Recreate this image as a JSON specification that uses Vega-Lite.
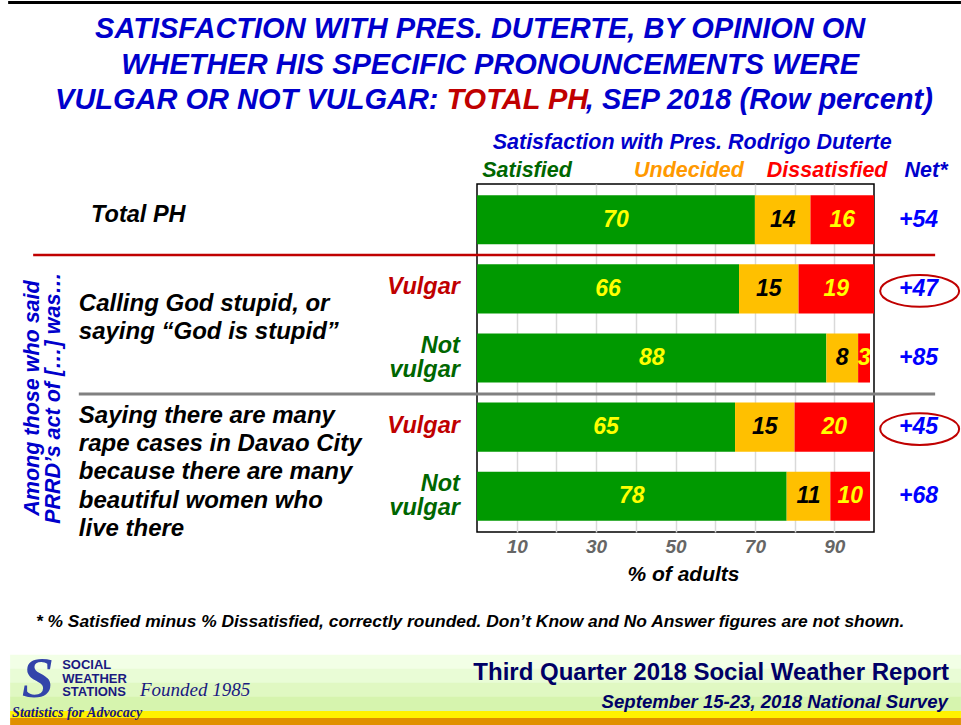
{
  "$schema": "https://vega.github.io/schema/vega-lite/v6.json",
  "width": 397,
  "height": 348,
  "autosize": {"type": "none"},
  "padding": {"left": 477, "top": 184, "right": 87, "bottom": 193},
  "background": "#ffffff",
  "config": {
    "view": {"stroke": "#000000", "strokeWidth": 1.5},
    "text": {"font": "Liberation Sans", "fontStyle": "italic", "fontWeight": "bold", "baseline": "middle"}
  },
  "datasets": {
    "bars": [
      {"row": "Total PH", "cat": "Satisfied", "pct": 70},
      {"row": "Total PH", "cat": "Undecided", "pct": 14},
      {"row": "Total PH", "cat": "Dissatisfied", "pct": 16},
      {"row": "God: Vulgar", "cat": "Satisfied", "pct": 66},
      {"row": "God: Vulgar", "cat": "Undecided", "pct": 15},
      {"row": "God: Vulgar", "cat": "Dissatisfied", "pct": 19},
      {"row": "God: Not vulgar", "cat": "Satisfied", "pct": 88},
      {"row": "God: Not vulgar", "cat": "Undecided", "pct": 8},
      {"row": "God: Not vulgar", "cat": "Dissatisfied", "pct": 3},
      {"row": "Rape: Vulgar", "cat": "Satisfied", "pct": 65},
      {"row": "Rape: Vulgar", "cat": "Undecided", "pct": 15},
      {"row": "Rape: Vulgar", "cat": "Dissatisfied", "pct": 20},
      {"row": "Rape: Not vulgar", "cat": "Satisfied", "pct": 78},
      {"row": "Rape: Not vulgar", "cat": "Undecided", "pct": 11},
      {"row": "Rape: Not vulgar", "cat": "Dissatisfied", "pct": 10}
    ],
    "rows": [
      {"row": "Total PH", "opinion": "", "net": 54, "highlight": false},
      {"row": "God: Vulgar", "opinion": "Vulgar", "net": 47, "highlight": true},
      {"row": "God: Not vulgar", "opinion": "Not vulgar", "net": 85, "highlight": false},
      {"row": "Rape: Vulgar", "opinion": "Vulgar", "net": 45, "highlight": true},
      {"row": "Rape: Not vulgar", "opinion": "Not vulgar", "net": 68, "highlight": false}
    ]
  },
  "layer": [
    {
      "data": {"name": "bars"},
      "transform": [
        {"calculate": "indexof(['Satisfied','Undecided','Dissatisfied'], datum.cat)", "as": "ord"},
        {"stack": "pct", "groupby": ["row"], "sort": [{"field": "ord", "order": "ascending"}], "as": ["v0", "v1"]}
      ],
      "mark": {"type": "bar"},
      "encoding": {
        "y": {"field": "row", "type": "nominal", "axis": null,
              "scale": {"type": "band", "domain": ["Total PH", "God: Vulgar", "God: Not vulgar", "Rape: Vulgar", "Rape: Not vulgar"], "paddingInner": 0.29, "paddingOuter": 0.163}},
        "x": {"field": "v0", "type": "quantitative",
              "scale": {"domain": [0, 100], "nice": false, "zero": false},
              "axis": {"values": [10, 20, 30, 40, 50, 60, 70, 80, 90], "grid": true, "gridColor": "#d9d9d9", "gridWidth": 1.5,
                       "ticks": false, "domain": false, "labelExpr": "datum.value % 20 == 10 ? datum.label : ''",
                       "labelFont": "Liberation Sans", "labelFontStyle": "italic", "labelFontWeight": "bold", "labelFontSize": 19,
                       "labelColor": "#666666", "labelPadding": 5, "labelFlush": false, "labelOverlap": false,
                       "title": "% of adults", "titleFont": "Liberation Sans", "titleFontStyle": "italic", "titleFontWeight": "bold",
                       "titleFontSize": 21, "titleColor": "#000000", "titlePadding": 7, "titleX": 206}},
        "x2": {"field": "v1"},
        "color": {"field": "cat", "type": "nominal", "legend": null,
                  "scale": {"domain": ["Satisfied", "Undecided", "Dissatisfied"], "range": ["#009900", "#ffc000", "#ff0000"]}}
      }
    },
    {
      "data": {"name": "bars"},
      "transform": [
        {"calculate": "indexof(['Satisfied','Undecided','Dissatisfied'], datum.cat)", "as": "ord"},
        {"stack": "pct", "groupby": ["row"], "sort": [{"field": "ord", "order": "ascending"}], "as": ["v0", "v1"]},
        {"calculate": "(datum.v0 + datum.v1) / 2", "as": "mid"}
      ],
      "mark": {"type": "text", "fontSize": 23, "align": "center"},
      "encoding": {
        "y": {"field": "row", "type": "nominal"},
        "x": {"field": "mid", "type": "quantitative"},
        "text": {"field": "pct", "type": "quantitative"},
        "color": {"condition": {"test": "datum.cat === 'Undecided'", "value": "#000000"}, "value": "#ffff00"}
      }
    },
    {
      "data": {"name": "rows"},
      "mark": {"type": "text", "fontSize": 23, "align": "center", "color": "#0000ff"},
      "encoding": {
        "y": {"field": "row", "type": "nominal"},
        "x": {"datum": 111.2},
        "text": {"field": "net", "type": "quantitative", "format": "+d"}
      }
    },
    {
      "data": {"values": [{"line": "footer band 1"}]},
      "mark": {"type": "rule", "color": "#f2ffe6", "strokeWidth": 14.5, "yOffset": 165.8},
      "encoding": {"x": {"datum": -117.6, "type": "quantitative"}, "x2": {"datum": 121.9}, "y": {"datum": "Rape: Not vulgar", "type": "nominal"}}
    },
    {
      "data": {"values": [{"line": "footer band 2"}]},
      "mark": {"type": "rule", "color": "#e9fcd6", "strokeWidth": 14.5, "yOffset": 179.8},
      "encoding": {"x": {"datum": -117.6, "type": "quantitative"}, "x2": {"datum": 121.9}, "y": {"datum": "Rape: Not vulgar", "type": "nominal"}}
    },
    {
      "data": {"values": [{"line": "footer band 3"}]},
      "mark": {"type": "rule", "color": "#e0f8c2", "strokeWidth": 14.5, "yOffset": 193.8},
      "encoding": {"x": {"datum": -117.6, "type": "quantitative"}, "x2": {"datum": 121.9}, "y": {"datum": "Rape: Not vulgar", "type": "nominal"}}
    },
    {
      "data": {"values": [{"line": "footer band 4"}]},
      "mark": {"type": "rule", "color": "#d6f4ae", "strokeWidth": 14.5, "yOffset": 207.8},
      "encoding": {"x": {"datum": -117.6, "type": "quantitative"}, "x2": {"datum": 121.9}, "y": {"datum": "Rape: Not vulgar", "type": "nominal"}}
    },
    {
      "data": {"values": [{"line": "footer strip yellow"}]},
      "mark": {"type": "rule", "color": "#fff200", "strokeWidth": 7, "yOffset": 218.3},
      "encoding": {"x": {"datum": -117.6, "type": "quantitative"}, "x2": {"datum": 121.9}, "y": {"datum": "Rape: Not vulgar", "type": "nominal"}}
    },
    {
      "data": {"values": [{"line": "footer strip orange"}]},
      "mark": {"type": "rule", "color": "#e09000", "strokeWidth": 7, "yOffset": 225.3},
      "encoding": {"x": {"datum": -117.6, "type": "quantitative"}, "x2": {"datum": 121.9}, "y": {"datum": "Rape: Not vulgar", "type": "nominal"}}
    },
    {
      "data": {"name": "rows"},
      "transform": [{"filter": "datum.highlight"}],
      "mark": {"type": "point", "shape": "M -1 0 A 1 0.4 0 1 1 1 0 A 1 0.4 0 1 1 -1 0 Z", "size": 6241, "filled": false, "stroke": "#c00000", "strokeWidth": 2, "opacity": 1, "yOffset": 2},
      "encoding": {
        "y": {"field": "row", "type": "nominal"},
        "x": {"datum": 111.5}
      }
    },
    {
      "data": {"name": "rows"},
      "transform": [{"filter": "datum.opinion === 'Vulgar'"}],
      "mark": {"type": "text", "fontSize": 23.5, "align": "right", "color": "#c00000", "yOffset": -1.5},
      "encoding": {
        "y": {"field": "row", "type": "nominal"},
        "x": {"datum": -4.3},
        "text": {"field": "opinion"}
      }
    },
    {
      "data": {"name": "rows"},
      "transform": [{"filter": "datum.opinion === 'Not vulgar'"}],
      "mark": {"type": "text", "fontSize": 23.5, "align": "right", "color": "#006600", "lineBreak": " ", "lineHeight": 23.5, "yOffset": -12},
      "encoding": {
        "y": {"field": "row", "type": "nominal"},
        "x": {"datum": -4.3},
        "text": {"field": "opinion"}
      }
    },
    {
      "data": {"values": [{"label": "Total PH"}]},
      "mark": {"type": "text", "fontSize": 23.5, "align": "left", "color": "#000000", "yOffset": -5},
      "encoding": {"x": {"datum": -97.2}, "y": {"datum": "Total PH"}, "text": {"field": "label"}}
    },
    {
      "data": {"values": [{"label": "Calling God stupid, or\nsaying “God is stupid”"}]},
      "mark": {"type": "text", "fontSize": 24, "align": "left", "color": "#000000", "lineBreak": "\n", "lineHeight": 28, "yOffset": 15},
      "encoding": {"x": {"datum": -100.3}, "y": {"datum": "God: Vulgar"}, "text": {"field": "label"}}
    },
    {
      "data": {"values": [{"label": "Saying there are many\nrape cases in Davao City\nbecause there are many\nbeautiful women who\nlive there"}]},
      "mark": {"type": "text", "fontSize": 24, "align": "left", "color": "#000000", "lineBreak": "\n", "lineHeight": 28.4, "yOffset": -11.4},
      "encoding": {"x": {"datum": -100.3}, "y": {"datum": "Rape: Vulgar"}, "text": {"field": "label"}}
    },
    {
      "data": {"values": [{"label": "Among those who said\nPRRD’s act of […] was…"}]},
      "mark": {"type": "text", "fontSize": 21.5, "align": "center", "angle": 270, "color": "#0000cc", "lineBreak": "\n", "lineHeight": 21.3, "yOffset": 40},
      "encoding": {"x": {"datum": -111.8}, "y": {"datum": "God: Not vulgar"}, "text": {"field": "label"}}
    },
    {
      "data": {"values": [{"label": "Satisfaction with Pres. Rodrigo Duterte"}]},
      "mark": {"type": "text", "fontSize": 21.5, "align": "center", "color": "#0000cc", "yOffset": -76.8},
      "encoding": {"x": {"datum": 54.2}, "y": {"datum": "Total PH"}, "text": {"field": "label"}}
    },
    {
      "data": {"values": [{"label": "Satisfied"}]},
      "mark": {"type": "text", "fontSize": 21.5, "align": "center", "color": "#006600", "yOffset": -48.8},
      "encoding": {"x": {"datum": 12.6}, "y": {"datum": "Total PH"}, "text": {"field": "label"}}
    },
    {
      "data": {"values": [{"label": "Undecided"}]},
      "mark": {"type": "text", "fontSize": 21.5, "align": "center", "color": "#ff9900", "yOffset": -48.8},
      "encoding": {"x": {"datum": 53.4}, "y": {"datum": "Total PH"}, "text": {"field": "label"}}
    },
    {
      "data": {"values": [{"label": "Dissatisfied"}]},
      "mark": {"type": "text", "fontSize": 21.5, "align": "center", "color": "#ff0000", "yOffset": -48.8},
      "encoding": {"x": {"datum": 88.2}, "y": {"datum": "Total PH"}, "text": {"field": "label"}}
    },
    {
      "data": {"values": [{"label": "Net*"}]},
      "mark": {"type": "text", "fontSize": 21.5, "align": "center", "color": "#0000cc", "yOffset": -48.8},
      "encoding": {"x": {"datum": 113.1}, "y": {"datum": "Total PH"}, "text": {"field": "label"}}
    },
    {
      "data": {"values": [{"label": "SATISFACTION WITH PRES. DUTERTE, BY OPINION ON"}]},
      "mark": {"type": "text", "fontSize": 29, "align": "center", "color": "#0000cc", "yOffset": -190.8},
      "encoding": {"x": {"datum": 0.8}, "y": {"datum": "Total PH"}, "text": {"field": "label"}}
    },
    {
      "data": {"values": [{"label": "WHETHER HIS SPECIFIC PRONOUNCEMENTS WERE"}]},
      "mark": {"type": "text", "fontSize": 29, "align": "center", "color": "#0000cc", "yOffset": -154.8},
      "encoding": {"x": {"datum": 3.3}, "y": {"datum": "Total PH"}, "text": {"field": "label"}}
    },
    {
      "data": {"values": [{"label": "VULGAR OR NOT VULGAR:"}]},
      "mark": {"type": "text", "fontSize": 29, "align": "right", "color": "#0000cc", "yOffset": -119.8},
      "encoding": {"x": {"datum": -9.7}, "y": {"datum": "Total PH"}, "text": {"field": "label"}}
    },
    {
      "data": {"values": [{"label": "TOTAL PH"}]},
      "mark": {"type": "text", "fontSize": 29, "align": "left", "color": "#c00000", "yOffset": -119.8},
      "encoding": {"x": {"datum": -7.7}, "y": {"datum": "Total PH"}, "text": {"field": "label"}}
    },
    {
      "data": {"values": [{"label": ", SEP 2018 (Row percent)"}]},
      "mark": {"type": "text", "fontSize": 29, "align": "left", "color": "#0000cc", "yOffset": -119.8},
      "encoding": {"x": {"datum": 27.4}, "y": {"datum": "Total PH"}, "text": {"field": "label"}}
    },
    {
      "data": {"values": [{"line": "vulgar separator"}]},
      "mark": {"type": "rule", "color": "#c00000", "strokeWidth": 2.5, "yOffset": -33.9},
      "encoding": {"x": {"datum": -111.8, "type": "quantitative"}, "x2": {"datum": 115.4}, "y": {"datum": "God: Vulgar", "type": "nominal"}}
    },
    {
      "data": {"values": [{"line": "topic separator"}]},
      "mark": {"type": "rule", "color": "#808080", "strokeWidth": 3, "yOffset": -33.1},
      "encoding": {"x": {"datum": -100.3, "type": "quantitative"}, "x2": {"datum": 115.4}, "y": {"datum": "Rape: Vulgar", "type": "nominal"}}
    },
    {
      "data": {"values": [{"line": "page frame top"}]},
      "mark": {"type": "rule", "color": "#000000", "strokeWidth": 3, "yOffset": -217.3},
      "encoding": {"x": {"datum": -118.1, "type": "quantitative"}, "x2": {"datum": 121.9}, "y": {"datum": "Total PH", "type": "nominal"}}
    },
    {
      "data": {"values": [{"label": "* % Satisfied minus % Dissatisfied, correctly rounded. Don’t Know and No Answer figures are not shown."}]},
      "mark": {"type": "text", "fontSize": 17.4, "align": "left", "color": "#000000", "yOffset": 125.8},
      "encoding": {"x": {"datum": -111.1}, "y": {"datum": "Rape: Not vulgar"}, "text": {"field": "label"}}
    },
    {
      "data": {"values": [{"label": "Third Quarter 2018 Social Weather Report"}]},
      "mark": {"type": "text", "fontSize": 24, "fontStyle": "normal", "align": "right", "color": "#000066", "yOffset": 176.8},
      "encoding": {"x": {"datum": 118.9}, "y": {"datum": "Rape: Not vulgar"}, "text": {"field": "label"}}
    },
    {
      "data": {"values": [{"label": "September 15-23, 2018 National Survey"}]},
      "mark": {"type": "text", "fontSize": 18.6, "align": "right", "color": "#000066", "yOffset": 205.5},
      "encoding": {"x": {"datum": 118.6}, "y": {"datum": "Rape: Not vulgar"}, "text": {"field": "label"}}
    },
    {
      "data": {"values": [{"label": "S"}]},
      "mark": {"type": "text", "fontSize": 58, "font": "Liberation Serif", "align": "center", "color": "#3344aa", "yOffset": 183.8},
      "encoding": {"x": {"datum": -110.6}, "y": {"datum": "Rape: Not vulgar"}, "text": {"field": "label"}}
    },
    {
      "data": {"values": [{"label": "SOCIAL\nWEATHER\nSTATIONS"}]},
      "mark": {"type": "text", "fontSize": 13, "font": "Liberation Sans", "fontStyle": "normal", "align": "left", "color": "#1a1a80", "lineBreak": "\n", "lineHeight": 13.5, "yOffset": 168.8},
      "encoding": {"x": {"datum": -104.5}, "y": {"datum": "Rape: Not vulgar"}, "text": {"field": "label"}}
    },
    {
      "data": {"values": [{"label": "Founded 1985"}]},
      "mark": {"type": "text", "fontSize": 19, "font": "Liberation Serif", "fontWeight": "normal", "align": "left", "color": "#1a1a80", "yOffset": 193.8},
      "encoding": {"x": {"datum": -84.9}, "y": {"datum": "Rape: Not vulgar"}, "text": {"field": "label"}}
    },
    {
      "data": {"values": [{"label": "Statistics for Advocacy"}]},
      "mark": {"type": "text", "fontSize": 14, "font": "Liberation Serif", "align": "left", "color": "#1a1a80", "yOffset": 216.8},
      "encoding": {"x": {"datum": -117.1}, "y": {"datum": "Rape: Not vulgar"}, "text": {"field": "label"}}
    }
  ]
}
